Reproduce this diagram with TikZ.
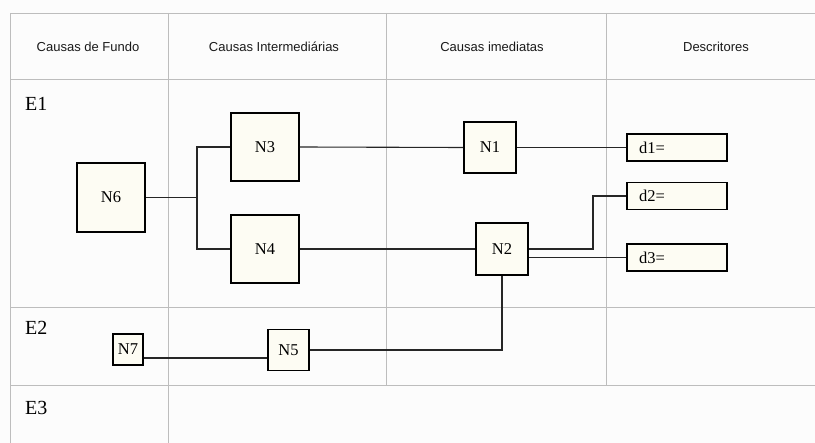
\documentclass[tikz,border=0pt]{standalone}
\usepackage{fontspec}
\setmainfont{Liberation Serif}
\setsansfont{Liberation Sans}
\usetikzlibrary{calc}
\definecolor{bgcol}{HTML}{FCFCFC}
\definecolor{gridcol}{HTML}{BDBDBD}
\definecolor{boxfill}{HTML}{FDFCF3}
\definecolor{hdrtext}{HTML}{1A1A1A}
\tikzset{
  nbox/.style={draw=black, fill=boxfill, line width=1.8pt, inner sep=0pt, font=\fontsize{16.5}{18}\selectfont},
  dbox/.style={draw=black, fill=boxfill, line width=1.8pt, inner sep=0pt, minimum width=100pt, minimum height=27pt, text width=76pt, align=left, font=\fontsize{16.5}{18}\selectfont},
  gridline/.style={draw=gridcol, line width=0.8pt},
  conn/.style={draw=black!85, line width=1.1pt},
  hdr/.style={font=\sffamily\fontsize{13}{15}\selectfont, text=hdrtext, inner sep=0pt},
  rowlbl/.style={font=\fontsize{20}{22}\selectfont, anchor=west, inner sep=0pt}
}
\begin{document}
\begin{tikzpicture}[x=1pt,y=-1pt]
\useasboundingbox (0,0) rectangle (815,443);
\fill[bgcol] (0,0) rectangle (815,443);
% grid
\draw[gridline] (10,13) -- (815,13);
\draw[gridline] (10,79) -- (815,79);
\draw[gridline] (10,307) -- (815,307);
\draw[gridline] (10,385) -- (815,385);
\draw[gridline] (10,13) -- (10,443);
\draw[gridline] (168,13) -- (168,443);
\draw[gridline] (386.5,13) -- (386.5,385);
\draw[gridline] (606.5,13) -- (606.5,385);
% headers
\node[hdr] (h1) at (88,47) {Causas de Fundo};
\node[hdr] (h2) at (274,47) {Causas Intermediárias};
\node[hdr] (h3) at (492,47) {Causas imediatas};
\node[hdr] (h4) at (716,47) {Descritores};
% row labels
\node[rowlbl] (e1) at (25,103.5) {E1};
\node[rowlbl] (e2) at (25,327.5) {E2};
\node[rowlbl] (e3) at (25,407.5) {E3};
% nodes
\node[nbox, minimum width=68pt, minimum height=69pt] (N6) at (111,197.5) {N6};
\node[nbox, minimum width=68pt, minimum height=68pt] (N3) at (265,147) {N3};
\node[nbox, minimum width=68pt, minimum height=68pt] (N4) at (265,249) {N4};
\node[nbox, minimum width=52pt, minimum height=51pt] (N1) at (490,147.5) {N1};
\node[nbox, minimum width=52pt, minimum height=52pt] (N2) at (502,249) {N2};
\node[nbox, minimum width=41pt, minimum height=41pt] (N5) at (288.5,350) {N5};
\node[nbox, minimum width=30pt, minimum height=31pt] (N7) at (128,349.5) {N7};
\node[dbox] (d1) at (677,147.5) {d1=};
\node[dbox] (d2) at (677,196) {d2=};
\node[dbox] (d3) at (677,257.5) {d3=};
% connectors
\coordinate (j) at (197,197.5);
\coordinate (b2) at (593,249);
\draw[conn] (N6.east) -- (j);
\draw[conn] (N3.west) -| (j);
\draw[conn] (N4.west) -| (j);
\draw[conn] (N3.east) -- (N1.west);
\draw[conn] (N1.east) -- (N1.east -| d1.west);
\draw[conn] (N4.east) -- (N2.west);
\draw[conn] (N2.east) -- (b2) |- (d2.west);
\draw[conn] (N2.east |- d3.west) -- (d3.west);
\draw[conn] (N2.south) |- (N5.east);
\draw[conn] (N7.east |- 0,358) -- (N5.west |- 0,358);
\end{tikzpicture}
\end{document}
